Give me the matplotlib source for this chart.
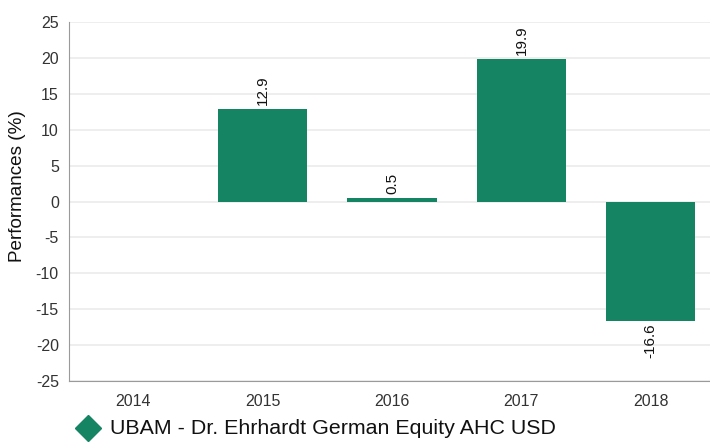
import matplotlib
matplotlib.use("Agg")
import matplotlib.pyplot as plt
from matplotlib.lines import Line2D

years = ["2014", "2015", "2016", "2017", "2018"]
values = [None, 12.9, 0.5, 19.9, -16.6]
series_name = "UBAM - Dr. Ehrhardt German Equity AHC USD"
yticks = [-25, -20, -15, -10, -5, 0, 5, 10, 15, 20, 25]

bar_color = "#158462"
plt.rcParams['font.family'] = ['Liberation Sans', 'DejaVu Sans']

fig = plt.figure(figsize=(7.10, 4.42), dpi=100)
ax = fig.add_axes([68.5 / 710, 61 / 442, 647 / 710, 359 / 442])

xs = list(range(len(years)))
for x, v in zip(xs, values):
    if v is None:
        continue
    ax.bar(x, v, width=0.69, color=bar_color, zorder=3)
    if v >= 0:
        ax.annotate(f"{v}", (x, v), xytext=(0, 2.5), textcoords="offset points",
                    ha="center", va="bottom", rotation=90, fontsize=11, color="#111111")
    else:
        ax.annotate(f"{v}", (x, v), xytext=(0, -2), textcoords="offset points",
                    ha="center", va="top", rotation=90, fontsize=11, color="#111111")

ax.set_xlim(-0.5, len(years) - 0.5)
ax.set_ylim(-25, 25)
ax.set_xticks(xs)
ax.set_xticklabels(years)
ax.set_yticks(yticks)
ax.set_yticklabels([str(t) for t in yticks])
ax.tick_params(axis="both", length=0, labelsize=11.5, colors="#333333")
ax.tick_params(axis="x", pad=9)
ax.tick_params(axis="y", pad=7)
ax.grid(axis="y", color="#ebebeb", linewidth=1.2, zorder=0)
ax.set_axisbelow(True)
for s in ["top", "right"]:
    ax.spines[s].set_visible(False)
ax.spines["left"].set_color("#9a9a9a")
ax.spines["bottom"].set_color("#9a9a9a")
ax.set_ylabel("Performances (%)", fontsize=13.6, color="#111111")
ax.yaxis.set_label_coords(-0.0657, 0.543)

fig.add_artist(Line2D([88 / 710], [1 - 428 / 442], marker="D", markersize=13.5,
                      color=bar_color, linestyle="none", transform=fig.transFigure))
fig.text(110 / 710, 1 - 428 / 442, series_name, fontsize=15.4, color="#111111",
         ha="left", va="center")

fig.savefig("out.png", dpi=100)
